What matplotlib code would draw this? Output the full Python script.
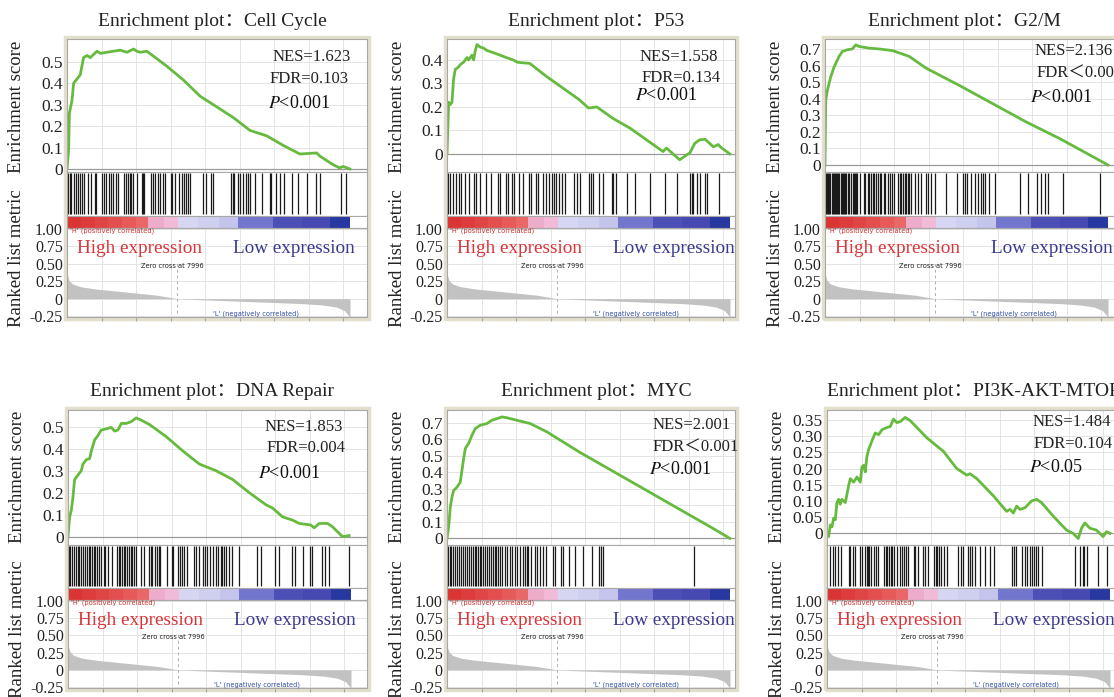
import matplotlib
matplotlib.use('Agg')
import matplotlib.pyplot as plt
from matplotlib.patches import Rectangle

plt.rcParams['font.family'] = ['Liberation Serif', 'Noto Sans CJK SC']
plt.rcParams['mathtext.fontset'] = 'stix'

W, H = 1114, 697

# ---------------- data ----------------
titles = ['Cell Cycle', 'P53', 'G2/M', 'DNA Repair', 'MYC', 'PI3K-AKT-MTOR']
nes_txt = ['NES=1.623', 'NES=1.558', 'NES=2.136', 'NES=1.853', 'NES=2.001', 'NES=1.484']
fdr_txt = ['FDR=0.103', 'FDR=0.134', 'FDR＜0.001', 'FDR=0.004', 'FDR＜0.001', 'FDR=0.104']
p_txt = ['<0.001', '<0.001', '<0.001', '<0.001', '<0.001', '<0.05']

es1_x = [0, 120, 170, 360, 480, 720, 960, 1080, 1200, 1450, 1690, 2170, 2410, 2890, 3370, 3860, 4340, 4820, 5060, 5300,
         5780, 6510, 7230, 8440, 9640, 10850, 12050, 13260, 14460, 15670, 16870, 18080, 18320, 19280, 19760, 20000, 20490]
es1_y = [0, 0.09, 0.26, 0.32, 0.40, 0.42, 0.44, 0.48, 0.52, 0.53, 0.52, 0.55, 0.54, 0.545, 0.55, 0.555, 0.545, 0.56, 0.55, 0.545,
         0.55, 0.515, 0.48, 0.415, 0.34, 0.29, 0.24, 0.18, 0.155, 0.11, 0.07, 0.075, 0.06, 0.02, 0.005, 0.012, 0.0]

es2_x = [0, 120, 240, 360, 480, 600, 840, 960, 1200, 1450, 1570, 1800, 1930, 2050, 2170, 2400, 2650, 2900, 3400, 3850,
         4300, 4800, 5100, 6000, 7200, 8400, 9600, 10250, 10850, 12050, 13250, 14450, 15650, 15900, 16850, 17600, 17950,
         18300, 18700, 19300, 19650, 19800, 20480]
es2_y = [0, 0.22, 0.21, 0.22, 0.32, 0.36, 0.37, 0.38, 0.39, 0.41, 0.40, 0.42, 0.40, 0.44, 0.465, 0.455, 0.45, 0.44, 0.43, 0.42,
         0.41, 0.40, 0.39, 0.385, 0.33, 0.28, 0.23, 0.195, 0.20, 0.15, 0.11, 0.06, 0.01, 0.025, -0.025, 0.005, 0.045,
         0.06, 0.062, 0.03, 0.04, 0.03, 0.0]

es3_x = [0, 50, 170, 410, 650, 1020, 1260, 1620, 1980, 2230, 2470, 3190, 3920, 4890, 6100, 7310, 9730, 12150, 14570,
         16990, 19410, 20500]
es3_y = [0, 0.39, 0.45, 0.53, 0.59, 0.655, 0.685, 0.695, 0.70, 0.725, 0.715, 0.705, 0.70, 0.69, 0.655, 0.585, 0.48, 0.37,
         0.26, 0.16, 0.05, 0.0]

es4_x = [0, 120, 240, 360, 480, 600, 840, 960, 1080, 1330, 1570, 1690, 1930, 2170, 2410, 2770, 3130, 3370, 3620, 3860,
         4220, 4580, 4940, 5300, 5900, 7110, 8310, 9520, 10720, 11930, 13130, 14340, 14820, 15540, 16270, 16750, 17590,
         17830, 18200, 18800, 19160, 19640, 19880, 20360]
es4_y = [0, 0.09, 0.12, 0.18, 0.26, 0.27, 0.29, 0.30, 0.33, 0.35, 0.355, 0.39, 0.44, 0.46, 0.485, 0.49, 0.497, 0.48, 0.485,
         0.515, 0.515, 0.523, 0.54, 0.53, 0.51, 0.455, 0.39, 0.33, 0.30, 0.26, 0.20, 0.145, 0.13, 0.09, 0.075, 0.06, 0.053,
         0.04, 0.06, 0.06, 0.045, 0.015, 0.0, 0.005]

es5_x = [0, 120, 240, 360, 480, 720, 960, 1080, 1200, 1330, 1570, 1810, 2050, 2410, 2890, 3250, 3620, 3980, 4340, 4820,
         6030, 7230, 9640, 12050, 14460, 16870, 19280, 20490]
es5_y = [0, 0.07, 0.19, 0.25, 0.29, 0.31, 0.34, 0.41, 0.48, 0.545, 0.575, 0.625, 0.665, 0.685, 0.695, 0.715, 0.725, 0.735,
         0.73, 0.72, 0.695, 0.645, 0.52, 0.405, 0.29, 0.175, 0.06, 0.0]

es6_x = [0, 120, 240, 360, 480, 600, 720, 840, 960, 1080, 1330, 1570, 1690, 1930, 2170, 2410, 2530, 2650, 2770, 2890,
         3010, 3250, 3490, 3740, 3980, 4340, 4580, 4820, 5060, 5300, 5660, 6030, 6510, 7230, 8440, 9400, 10120, 10360,
         10850, 12050, 13010, 13260, 13500, 13740, 13980, 14340, 14820, 15180, 15540, 16390, 17350, 17830, 18200, 18440,
         18680, 19040, 19520, 20000, 20240, 20500]
es6_y = [0, -0.01, 0.026, 0.02, 0.047, 0.042, 0.095, 0.105, 0.09, 0.105, 0.095, 0.148, 0.169, 0.158, 0.174, 0.158, 0.205,
         0.21, 0.19, 0.237, 0.258, 0.285, 0.31, 0.305, 0.32, 0.327, 0.33, 0.353, 0.342, 0.345, 0.358, 0.348, 0.327, 0.295,
         0.253, 0.2, 0.18, 0.184, 0.169, 0.116, 0.068, 0.074, 0.063, 0.084, 0.074, 0.079, 0.1, 0.105, 0.095, 0.053, 0.01,
         0.0, -0.016, 0.016, 0.032, 0.016, 0.01, -0.01, 0.005, 0.0]

hits1 = [70, 190, 320, 480, 630, 800, 920, 1110, 1230, 1530, 1770, 2010, 2080, 2570, 2690, 2860, 3050, 3220, 3340, 3530,
         3700, 4110, 4240, 4430, 4550, 4670, 4790, 5080, 5400, 5470, 5570, 6120, 6240, 6410, 6610, 6730, 6970, 7090, 7500,
         7620, 7820, 8130, 8300, 8470, 8620, 8790, 8910, 9870, 10070, 10410, 10550, 11860, 12000, 12100, 12420, 12540,
         12730, 12950, 13140, 13260, 13630, 14110, 14670, 14760, 15150, 15440, 15730, 16290, 16700, 17420, 18050, 18300,
         19840, 20230]
hits2 = [70, 240, 440, 630, 870, 1040, 1280, 1600, 1960, 2080, 2370, 2810, 3220, 3700, 3870, 4310, 4430, 4740, 4840, 5230,
         5470, 5950, 6050, 6440, 6610, 6920, 7160, 7410, 7580, 7740, 7890, 8130, 8300, 8540, 9200, 9390, 9630, 10310,
         10410, 10550, 11040, 11280, 11930, 12050, 12250, 13020, 13630, 14670, 15800, 16650, 17620, 17740, 17810, 18100,
         18300, 18710, 18830, 19680]
hits3 = [70, 150, 240, 320, 390, 480, 560, 630, 720, 800, 870, 920, 1040, 1130, 1210, 1290, 1360, 1450, 1530, 1650, 1770,
         1890, 2010, 2100, 2180, 2260, 2320, 2570, 2810, 2900, 3100, 3220, 3340, 3460, 3580, 3700, 3820, 3950, 4070, 4260,
         4360, 4550, 4740, 4840, 4990, 5280, 5400, 5520, 5640, 5760, 5880, 6000, 6120, 6240, 6490, 6730, 6970, 7330, 7450,
         7700, 7990, 8790, 9580, 10000, 10160, 10310, 10550, 10840, 11080, 11280, 11450, 11570, 11860, 12340, 14110,
         14710, 15390, 15630, 15920, 16170, 17260, 19920]
hits4 = [50, 170, 290, 410, 580, 730, 820, 970, 1070, 1260, 1380, 1500, 1620, 1740, 1860, 1980, 2110, 2230, 2420, 2590,
         2710, 2900, 3190, 3560, 3680, 3800, 3920, 4040, 4160, 4280, 4400, 4530, 4650, 4770, 4940, 5320, 5490, 5860, 5980,
         6100, 6290, 6460, 6580, 6700, 7190, 7500, 7600, 7990, 8080, 8230, 8400, 8640, 9120, 9290, 9490, 9780, 9920,
         10090, 10260, 10500, 10700, 10890, 11060, 11180, 11300, 11420, 11660, 11860, 12390, 13720, 13960, 15000, 15290,
         16260, 16460, 17040, 17520, 17710, 18390, 18630, 18880, 20330]
hits5 = [70, 190, 320, 440, 560, 730, 870, 1040, 1160, 1280, 1450, 1600, 1770, 1890, 2010, 2130, 2250, 2370, 2490, 2610,
         2740, 2900, 3050, 3220, 3340, 3460, 3580, 3700, 3870, 4020, 4190, 4360, 4550, 4740, 4910, 5080, 5280, 5470, 5640,
         5760, 5880, 6120, 6370, 6530, 6730, 6920, 7160, 7650, 7820, 8230, 8370, 8860, 9270, 9830, 10480, 11040, 11130,
         11280, 17860]
hits6 = [240, 410, 610, 800, 1040, 1570, 1690, 1860, 2060, 2420, 2540, 2780, 2900, 2980, 3070, 3220, 3390, 3560, 3700,
         4110, 4240, 4360, 4480, 4600, 4720, 4840, 5080, 5320, 5450, 5570, 5740, 5880, 6290, 6410, 6610, 6950, 7090, 7330,
         7740, 7870, 7990, 8110, 8230, 8470, 8710, 9510, 9680, 9850, 10240, 10330, 10480, 10720, 11060, 11450, 11790,
         12100, 13380, 13550, 13720, 14110, 14350, 14520, 14690, 14880, 15000, 15170, 15320, 15610, 17980, 18320, 18510,
         18630, 18800, 19600, 20260]

metric_rank = [0, 50, 150, 400, 1000, 2000, 3500, 5000, 6500, 7996, 9000, 11000, 13000, 15000, 17000, 18500, 19500,
               20100, 20400, 20500]
metric_val = [0.40, 0.32, 0.26, 0.21, 0.17, 0.14, 0.11, 0.08, 0.05, 0.0, -0.01, -0.025, -0.04, -0.055, -0.07, -0.09,
              -0.12, -0.17, -0.24, -0.28]

es_ticks = [[0, 0.1, 0.2, 0.3, 0.4, 0.5], [0, 0.1, 0.2, 0.3, 0.4], [0, 0.1, 0.2, 0.3, 0.4, 0.5, 0.6, 0.7],
            [0, 0.1, 0.2, 0.3, 0.4, 0.5], [0, 0.1, 0.2, 0.3, 0.4, 0.5, 0.6, 0.7],
            [0, 0.05, 0.10, 0.15, 0.20, 0.25, 0.30, 0.35]]
es_ticklabels = [['0', '0.1', '0.2', '0.3', '0.4', '0.5'], ['0', '0.1', '0.2', '0.3', '0.4'],
                 ['0', '0.1', '0.2', '0.3', '0.4', '0.5', '0.6', '0.7'], ['0', '0.1', '0.2', '0.3', '0.4', '0.5'],
                 ['0', '0.1', '0.2', '0.3', '0.4', '0.5', '0.6', '0.7'],
                 ['0', '0.05', '0.10', '0.15', '0.20', '0.25', '0.30', '0.35']]
es_ylims = [(-0.014, 0.607), (-0.077, 0.489), (-0.042, 0.76), (-0.038, 0.576), (-0.04, 0.777), (-0.036, 0.381)]
metric_ticks = [1.0, 0.75, 0.5, 0.25, 0, -0.25]
metric_ticklabels = ['1.00', '0.75', '0.50', '0.25', '0', '-0.25']

# colour bar blocks (rank edges and colours)
cb_edges = [0, 1000, 2000, 3000, 4000, 5000, 5900, 7000, 8060, 9500, 11000, 12400, 14950, 17000, 19070, 20500]
cb_colors = ['#db3434', '#de3c3c', '#e04545', '#e34f4f', '#e65a5a', '#ea6767', '#eeaccb', '#f1bad6',
             '#d6d6f2', '#cfcff0', '#c4c4ec', '#7276cc', '#4b4fb6', '#4749b2', '#2738a0']

ES_X = [es1_x, es2_x, es3_x, es4_x, es5_x, es6_x]
ES_Y = [es1_y, es2_y, es3_y, es4_y, es5_y, es6_y]
HITS = [hits1, hits2, hits3, hits4, hits5, hits6]
N_GENES = 20500
ZERO_CROSS = 7996

# ---------------- layout (pixels) ----------------
panel_lr = [(67, 367), (447, 735), (825, 1125), (68, 367), (447, 735), (827, 1127)]
row_y = [(39, 172, 216, 228, 317), (410, 545, 588, 600, 688)]
DATA_PX = 283.0
title_pos = [(212, 21, 'center'), (596, 21, 'center'), (964, 21, 'center'),
             (212, 391, 'center'), (596, 391, 'center'), (827, 391, 'left')]
nes_pos = [(273, 57), (640, 57), (1035, 51), (265, 427), (653, 425), (1033, 422)]
fdr_pos = [(270, 79), (642, 78), (1037, 73), (267, 448), (653, 447), (1034, 444)]
p_pos = [(268, 103), (635, 96), (1030, 97), (258, 473), (649, 469), (1029, 468)]
eslab_y = [107, 477]
rlm_y = [258, 629]

GREEN = '#66bb3f'
GRID = '#e4e4e4'
SPINE = '#a8a8a8'
FRAME = '#e2dfcd'

fig = plt.figure(figsize=(W / 100, H / 100), dpi=100)
fig.patch.set_facecolor('white')


def axes_px(l, t, r, b):
    return fig.add_axes([l / W, 1 - b / H, (r - l) / W, (b - t) / H])


def fx(x):
    return x / W


def fy(y):
    return 1 - y / H


def style_spines(ax):
    for s in ax.spines.values():
        s.set_color(SPINE)
        s.set_linewidth(0.8)


xticks = list(range(2500, 21000, 2500))

for i in range(6):
    l, r = panel_lr[i]
    row = 0 if i < 3 else 1
    es_t, es_b, hit_b, cb_b, m_b = row_y[row]
    xmax = (r - l) / DATA_PX * N_GENES

    # outer beige frame (drawn beneath the axes)
    fig.patches.append(Rectangle((fx(l - 2), fy(m_b + 2)), fx(r - l + 4), (m_b - es_t + 4) / H,
                                 transform=fig.transFigure, fill=False, edgecolor=FRAME, lw=2.5, zorder=-1))

    # enrichment score
    ax = axes_px(l, es_t, r, es_b)
    ax.set_xlim(0, xmax)
    ax.set_ylim(*es_ylims[i])
    ax.set_xticks(xticks)
    ax.set_xticklabels([])
    ax.set_yticks(es_ticks[i])
    ax.set_yticklabels(es_ticklabels[i])
    ax.grid(True, color=GRID, lw=0.7)
    ax.set_axisbelow(True)
    ax.axhline(0, color='#9a9a9a', lw=0.9)
    ax.plot(ES_X[i], ES_Y[i], color=GREEN, lw=2.0, solid_joinstyle='round')
    ax.tick_params(axis='x', length=0)
    ax.tick_params(axis='y', length=0, pad=3, labelsize=12.5, labelcolor='#222222')
    style_spines(ax)

    # hits
    axh = axes_px(l, es_b, r, hit_b)
    axh.set_xlim(0, xmax)
    axh.set_ylim(0, 1)
    axh.vlines(HITS[i], 0.04, 0.97, color='#1a1a1a', lw=0.9)
    axh.set_xticks([])
    axh.set_yticks([])
    style_spines(axh)

    # colour bar
    axc = axes_px(l, hit_b, r, cb_b)
    axc.set_xlim(0, xmax)
    axc.set_ylim(0, 1)
    for k in range(len(cb_colors)):
        axc.axvspan(cb_edges[k], cb_edges[k + 1], color=cb_colors[k], lw=0)
    axc.set_xticks([])
    axc.set_yticks([])
    style_spines(axc)

    # ranked list metric
    axm = axes_px(l, cb_b, r, m_b)
    axm.set_xlim(0, xmax)
    axm.set_ylim(-0.262, 1.01)
    axm.set_xticks(xticks)
    axm.set_xticklabels([])
    axm.set_yticks(metric_ticks)
    axm.set_yticklabels(metric_ticklabels)
    axm.grid(True, color=GRID, lw=0.7)
    axm.set_axisbelow(True)
    axm.fill_between(metric_rank, 0, metric_val, color='#c2c2c2', lw=0)
    axm.axvline(ZERO_CROSS, ymin=0.05, ymax=0.62, color='#b0b0b0', lw=0.7, ls=(0, (3, 3)))
    axm.tick_params(axis='x', length=3, color=SPINE, direction='out')
    axm.tick_params(axis='y', length=0, pad=3, labelsize=11.5, labelcolor='#222222')
    style_spines(axm)

    axm.text(250, 0.965, "'H' (positively correlated)", fontsize=4.8, color='#d03030',
             family='DejaVu Sans', va='center', ha='left')
    axm.text(ZERO_CROSS - 350, 0.47, 'Zero cross at 7996', fontsize=4.8, color='#222222',
             family='DejaVu Sans', va='center', ha='center')
    axm.text(13700, -0.215, "'L' (negatively correlated)", fontsize=4.8, color='#3050a8',
             family='DejaVu Sans', va='center', ha='center')
    axm.text(700, 0.72, 'High expression', fontsize=13.8, color='#d9353a', va='center', ha='left')
    axm.text(12000, 0.72, 'Low expression', fontsize=13.8, color='#3a3a8e', va='center', ha='left')

    # labels
    fig.text(fx(l - 50), fy(eslab_y[row]), 'Enrichment score', rotation=90, fontsize=13.5,
             va='center', ha='center', color='#222222')
    fig.text(fx(l - 50), fy(rlm_y[row]), 'Ranked list metric', rotation=90, fontsize=13.5,
             va='center', ha='center', color='#222222')

    tx, ty, tha = title_pos[i]
    fig.text(fx(tx), fy(ty), 'Enrichment plot：' + titles[i], fontsize=14, ha=tha, va='center', color='#222222')

    fig.text(fx(nes_pos[i][0]), fy(nes_pos[i][1]), nes_txt[i], fontsize=12, ha='left', va='center',
             color='#222222')
    fig.text(fx(fdr_pos[i][0]), fy(fdr_pos[i][1]), fdr_txt[i], fontsize=12, ha='left', va='center',
             color='#222222')
    fig.text(fx(p_pos[i][0]), fy(p_pos[i][1]), '$P$' + p_txt[i], fontsize=13, ha='left', va='center',
             color='#111111')

fig.savefig('out.png', dpi=100, facecolor='white')
